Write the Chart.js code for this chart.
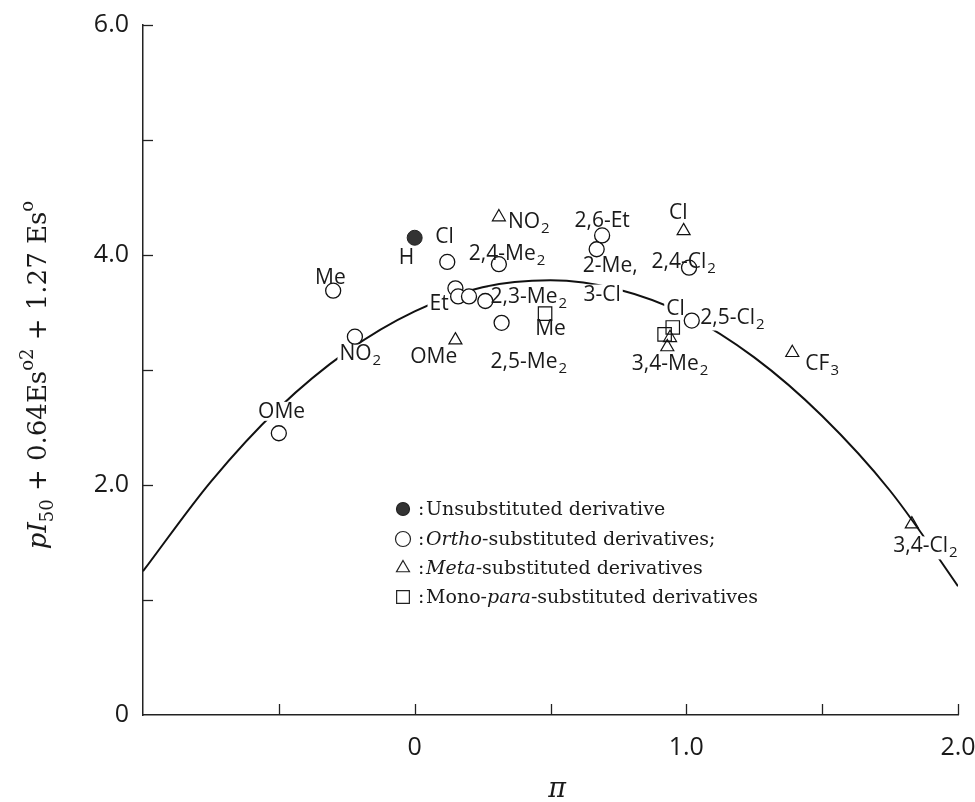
<!DOCTYPE html>
<html>
<head>
<meta charset="utf-8">
<title>pI50 vs π</title>
<script src="https://cdn.jsdelivr.net/npm/chart.js@4.4.1/dist/chart.umd.min.js"></script>
<style>
  html, body { margin: 0; padding: 0; background: #fff; }
  #wrap { width: 975px; height: 802px; }
</style>
</head>
<body>
<div id="wrap"><canvas id="chart" width="975" height="802"></canvas></div>
<script>
// x = π, y = pI50 + 0.64Es°2 + 1.27Es°
const unsubX = [0.0];
const unsubY = [4.15];

const orthoX = [-0.50, -0.30, -0.22, 0.12, 0.15, 0.16, 0.20, 0.26, 0.31, 0.32, 0.67, 0.69, 1.01, 1.02];
const orthoY = [2.45, 3.69, 3.29, 3.94, 3.71, 3.64, 3.64, 3.60, 3.92, 3.41, 4.05, 4.17, 3.89, 3.43];

const metaX = [0.15, 0.31, 0.94, 0.93, 0.99, 1.39, 1.83];
const metaY = [3.26, 4.33, 3.28, 3.20, 4.21, 3.15, 1.66];

const paraX = [0.48, 0.92, 0.95];
const paraY = [3.49, 3.31, 3.37];

// the fitted parabola as drawn
const curveX = [-1.0, -0.75, -0.5, -0.25, 0, 0.25, 0.5, 0.75, 1.0, 1.25, 1.5, 1.75, 2.0, 2.02];
const curveY = [1.25, 2.03, 2.67, 3.16, 3.51, 3.72, 3.78, 3.70, 3.48, 3.11, 2.60, 1.95, 1.12, 1.05];

// substituent labels ("_" starts a subscript), placed in data units
const labelText = ['H', 'Cl', 'Me', 'NO_2', 'OMe', 'Et', '2,4-Me_2', 'NO_2', '2,3-Me_2', 'OMe', 'Me',
  '2,5-Me_2', '2,6-Et', '2-Me,', '3-Cl', 'Cl', '2,4-Cl_2', 'Cl', '2,5-Cl_2', '3,4-Me_2', 'CF_3', '3,4-Cl_2'];
const labelX = [-0.03, 0.11, -0.31, -0.20, -0.49, 0.09, 0.34, 0.42, 0.42, 0.07, 0.50,
  0.42, 0.69, 0.72, 0.69, 0.97, 0.99, 0.96, 1.17, 0.94, 1.50, 1.88];
const labelY = [3.99, 4.17, 3.81, 3.15, 2.65, 3.59, 4.02, 4.30, 3.65, 3.13, 3.37,
  3.08, 4.31, 3.92, 3.67, 4.38, 3.95, 3.54, 3.47, 3.07, 3.07, 1.48];

const xTickValues = [0, 1, 2];
const xTickLabels = ['0', '1.0', '2.0'];
const yTickValues = [0, 2, 4, 6];
const yTickLabels = ['0', '2.0', '4.0', '6.0'];

const legendItems = [
  [['Unsubstituted derivative', false]],
  [['Ortho', true], ['-substituted derivatives;', false]],
  [['Meta', true], ['-substituted derivatives', false]],
  [['Mono-', false], ['para', true], ['-substituted derivatives', false]]
];

const SANS = '"Open Sans", "DejaVu Sans", sans-serif';
const SERIF = '"DejaVu Serif", "Liberation Serif", serif';
const INK = '#1a1a1a';
const LABEL_SIZE = 21;
const SUB_SIZE = 15;

function pts(xs, ys) {
  return xs.map((x, i) => ({ x: x, y: ys[i] }));
}

function tickLabel(values, labels) {
  return function(v) {
    const i = values.findIndex(t => Math.abs(t - v) < 1e-6);
    return i < 0 ? '' : labels[i];
  };
}

// measure a label, returns its pieces and box
function layoutLabel(ctx, text, cx, cy) {
  const i = text.indexOf('_');
  const main = i < 0 ? text : text.slice(0, i);
  const sub = i < 0 ? '' : text.slice(i + 1);
  ctx.font = LABEL_SIZE + 'px ' + SANS;
  const wMain = ctx.measureText(main).width;
  ctx.font = SUB_SIZE + 'px ' + SANS;
  const wSub = sub ? ctx.measureText(sub).width + 1 : 0;
  const left = cx - (wMain + wSub) / 2;
  const base = cy + LABEL_SIZE * 0.36;
  return { main, sub, wMain, wSub, left, base };
}

const labelPlugin = {
  id: 'substituentLabels',
  // white boxes behind the labels cut the fitted curve, as in the print
  afterDatasetDraw(chart, args) {
    if (chart.data.datasets[args.index].label !== 'fit') return;
    const { ctx, scales: { x, y } } = chart;
    ctx.save();
    ctx.fillStyle = '#fff';
    labelText.forEach((t, i) => {
      const L = layoutLabel(ctx, t, x.getPixelForValue(labelX[i]), y.getPixelForValue(labelY[i]));
      const top = L.base - LABEL_SIZE * 0.76;
      const bottom = L.base + (L.sub ? 7 : 3);
      ctx.fillRect(L.left - 2, top, L.wMain + L.wSub + 4, bottom - top);
    });
    ctx.restore();
  },
  afterDatasetsDraw(chart) {
    const { ctx, scales: { x, y } } = chart;
    ctx.save();
    ctx.fillStyle = INK;
    ctx.textBaseline = 'alphabetic';
    ctx.textAlign = 'left';
    labelText.forEach((t, i) => {
      const L = layoutLabel(ctx, t, x.getPixelForValue(labelX[i]), y.getPixelForValue(labelY[i]));
      ctx.font = LABEL_SIZE + 'px ' + SANS;
      ctx.fillText(L.main, L.left, L.base);
      if (L.sub) {
        ctx.font = SUB_SIZE + 'px ' + SANS;
        ctx.fillText(L.sub, L.left + L.wMain + 1, L.base + 5);
      }
    });
    ctx.restore();
  }
};

const decorPlugin = {
  id: 'decor',
  afterDraw(chart) {
    const { ctx, chartArea, scales: { x, y } } = chart;
    ctx.save();

    // inward tick marks
    ctx.strokeStyle = '#222';
    ctx.lineWidth = 1.3;
    x.ticks.forEach(t => {
      if (t.value <= x.min) return;
      const px = Math.round(x.getPixelForValue(t.value)) + 0.5;
      ctx.beginPath();
      ctx.moveTo(px, chartArea.bottom);
      ctx.lineTo(px, chartArea.bottom - 11);
      ctx.stroke();
    });
    y.ticks.forEach(t => {
      if (t.value <= y.min) return;
      const py = Math.round(y.getPixelForValue(t.value)) + 0.5;
      ctx.beginPath();
      ctx.moveTo(chartArea.left, py);
      ctx.lineTo(chartArea.left + 10, py);
      ctx.stroke();
    });

    // legend inside the plot
    const rows = [509, 539, 568, 597];
    const mx = 403;
    const styles = chart.data.datasets.slice(0, 4);
    ctx.textBaseline = 'middle';
    rows.forEach((ry, i) => {
      const ds = styles[i];
      ctx.fillStyle = i === 0 ? '#333' : '#fff';
      ctx.strokeStyle = '#222';
      ctx.lineWidth = 1.2;
      Chart.helpers.drawPoint(ctx, {
        pointStyle: ds.pointStyle,
        radius: i === 0 ? 6.5 : (i === 3 ? 9 : 7.5),
        borderWidth: 1.2,
        rotation: 0
      }, mx, ry);
      ctx.fillStyle = INK;
      ctx.font = '19px ' + SERIF;
      ctx.fillText(':', 418, ry + 1);
      let tx = 426;
      legendItems[i].forEach(([s, it]) => {
        ctx.font = (it ? 'italic ' : '') + '19px ' + SERIF;
        ctx.fillText(s, tx, ry + 1);
        tx += ctx.measureText(s).width;
      });
    });

    // x axis title
    ctx.font = 'italic 27px ' + SERIF;
    ctx.textAlign = 'center';
    ctx.textBaseline = 'alphabetic';
    ctx.fillText('π', 557, 797);

    // y axis title, rotated, with sub/superscripts
    const fs = 26;
    const parts = [
      ['pI', 'italic', 1, 0],
      ['50', '', 0.68, 0.25],
      [' + 0.64Es', '', 1, 0],
      ['o2', '', 0.68, -0.5],
      [' + 1.27 Es', '', 1, 0],
      ['o', '', 0.68, -0.5]
    ];
    let total = 0;
    parts.forEach(p => {
      ctx.font = p[1] + ' ' + Math.round(fs * p[2]) + 'px ' + SERIF;
      total += ctx.measureText(p[0]).width;
    });
    ctx.translate(46, 375);
    ctx.rotate(-Math.PI / 2);
    ctx.textAlign = 'left';
    let px = -total / 2;
    parts.forEach(p => {
      ctx.font = p[1] + ' ' + Math.round(fs * p[2]) + 'px ' + SERIF;
      ctx.fillText(p[0], px, p[3] * fs);
      px += ctx.measureText(p[0]).width;
    });
    ctx.restore();
  }
};

const axisFont = { family: SANS, size: 25 };

new Chart(document.getElementById('chart'), {
  type: 'scatter',
  data: {
    datasets: [
      {
        label: 'Unsubstituted',
        data: pts(unsubX, unsubY),
        pointStyle: 'circle',
        pointRadius: 7.5,
        backgroundColor: '#333',
        borderColor: '#222',
        borderWidth: 1
      },
      {
        label: 'Ortho',
        data: pts(orthoX, orthoY),
        pointStyle: 'circle',
        pointRadius: 7.5,
        backgroundColor: '#fff',
        borderColor: '#111',
        borderWidth: 1.3
      },
      {
        label: 'Meta',
        data: pts(metaX, metaY),
        pointStyle: 'triangle',
        pointRadius: 7.5,
        backgroundColor: 'rgba(255,255,255,0)',
        borderColor: '#111',
        borderWidth: 1.2
      },
      {
        label: 'Para',
        data: pts(paraX, paraY),
        pointStyle: 'rect',
        pointRadius: 9.5,
        backgroundColor: 'rgba(255,255,255,0)',
        borderColor: '#111',
        borderWidth: 1.2
      },
      {
        label: 'fit',
        data: pts(curveX, curveY),
        showLine: true,
        pointRadius: 0,
        borderColor: '#111',
        borderWidth: 2,
        cubicInterpolationMode: 'monotone',
        fill: false
      }
    ]
  },
  options: {
    responsive: false,
    animation: false,
    devicePixelRatio: 1,
    layout: { padding: { top: 25, right: 17, left: 0, bottom: 0 } },
    plugins: {
      legend: { display: false },
      tooltip: { enabled: false }
    },
    scales: {
      x: {
        type: 'linear',
        min: -1,
        max: 2,
        grid: { display: false, drawTicks: false },
        border: { display: true, color: '#222', width: 1.5 },
        ticks: {
          stepSize: 0.5,
          autoSkip: false,
          maxRotation: 0,
          padding: 18,
          color: INK,
          font: axisFont,
          callback: tickLabel(xTickValues, xTickLabels)
        },
        afterFit(scale) {
          scale.height = 87;
          scale.paddingLeft = 0;
          scale.paddingRight = 0;
        }
      },
      y: {
        type: 'linear',
        min: 0,
        max: 6,
        grid: { display: false, drawTicks: false },
        border: { display: true, color: '#222', width: 1.5 },
        ticks: {
          stepSize: 1,
          autoSkip: false,
          padding: 14,
          color: INK,
          font: axisFont,
          callback: tickLabel(yTickValues, yTickLabels)
        },
        afterFit(scale) {
          scale.width = 143;
          scale.paddingTop = 0;
          scale.paddingBottom = 0;
        }
      }
    }
  },
  plugins: [labelPlugin, decorPlugin]
});
</script>
</body>
</html>
